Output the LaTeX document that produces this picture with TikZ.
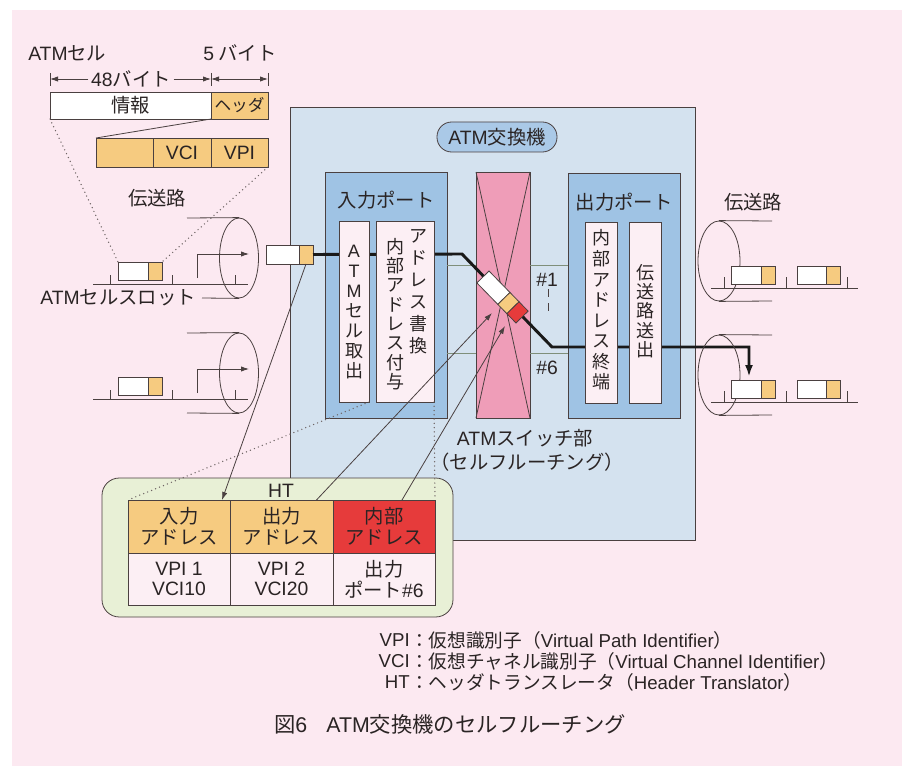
\documentclass[tikz,border=0pt]{standalone}
\usepackage{fontspec}
\setmainfont{Noto Sans CJK JP}
\newfontfamily\latfont{Liberation Sans}
\newcommand{\latn}[1]{{\latfont #1}}
\usetikzlibrary{arrows.meta,fit,shapes.geometric,calc}
\definecolor{bgpink}{HTML}{FCE9F1}
\definecolor{swblue}{HTML}{D4E2EF}
\definecolor{portblue}{HTML}{9FC3E4}
\definecolor{pillblue}{HTML}{AAC9E7}
\definecolor{innerpink}{HTML}{FCEFF4}
\definecolor{swpink}{HTML}{EF9DB8}
\definecolor{hdrorange}{HTML}{F6CB80}
\definecolor{hdrred}{HTML}{E63B3B}
\definecolor{htgreen}{HTML}{E8F0D6}
\definecolor{linec}{HTML}{4A4040}
\definecolor{txtc}{HTML}{2A2424}
\definecolor{thinc}{HTML}{7F8F7A}
\definecolor{dotc}{HTML}{6E6464}
\begin{document}
\begin{tikzpicture}[x=0.75pt,y=-0.75pt,
  ln/.style={draw=linec, line width=0.6pt},
  bx/.style={draw=linec, line width=0.6pt, inner sep=0pt, outer sep=0pt},
  lbl/.style={text=txtc, inner sep=0pt, font=\fontsize{14.5}{16}\selectfont},
  vt/.style={text=txtc, inner sep=0pt, align=center},
  dots/.style={draw=dotc, line width=1.1pt, line cap=round, dash pattern=on 0pt off 3.2pt},
  arr/.style={-{Latex[length=6pt,width=4pt]}},
  arrb/.style={{Latex[length=6pt,width=4pt]}-{Latex[length=6pt,width=4pt]}},
  heavy/.style={draw=black!90, line width=2.2pt},
  thinl/.style={draw=thinc, line width=0.7pt},
  ell/.style={ellipse, draw=linec, line width=0.6pt, inner sep=0pt}
]
\useasboundingbox (0,0) rectangle (908,774);
\fill[white] (0,0) rectangle (908,774);
\fill[bgpink] (12,10) rectangle (902,766);

% ---------- ATM cell structure (top left)
\node[lbl, anchor=west] (atmcell) at (28,53) {\latn{ATM}セル};
\node[lbl] (fiveb) at (240,53) {\latn{5} バイト};
\coordinate (d1) at (50,79); \coordinate (d2) at (211,79); \coordinate (d3) at (268,79);
\draw[ln] (50,73) -- (50,86) (211,73) -- (211,86) (268,73) -- (268,86);
\node[lbl, fill=bgpink, inner xsep=2pt] (b48) at (131,79) {\latn{48}バイト};
\draw[ln, arr] (b48.west) -- (d1);
\draw[ln, arr] (b48.east) -- (d2);
\draw[ln, arrb] (d2) -- (d3);
\node[bx, fill=white, fit={(50,92)(211,119)}] (info) {};
\node[lbl] (infot) at (info.center) {情報};
\node[bx, fill=hdrorange, fit={(211,92)(268,119)}] (hdr) {};
\node[lbl, font=\fontsize{12.5}{14}\selectfont] (hdrt) at (hdr.center) {ヘッダ};
\node[bx, fill=hdrorange, fit={(96,138)(153,167)}] (lowa) {};
\node[bx, fill=hdrorange, fit={(153,138)(211,167)}] (vcib) {};
\node[bx, fill=hdrorange, fit={(211,138)(268,167)}] (vpib) {};
\node[lbl] (vcit) at (vcib.center) {\latn{VCI}};
\node[lbl] (vpit) at (vpib.center) {\latn{VPI}};
\draw[ln] (info.south east) -- (lowa.north west);

% ---------- big switch box
\node[bx, fill=swblue, fit={(290,107)(695,540)}] (atmsw) {};
\node[bx, fill=pillblue, rounded corners=11pt, fit={(437,122)(557,152)}] (pill) {};
\node[lbl] (pillt) at (pill.center) {\latn{ATM}交換機};
\node[bx, fill=portblue, fit={(325,172)(447,418)}] (inport) {};
\node[lbl] (inportt) at (386,200) {入力ポート};
\node[bx, fill=portblue, fit={(568,173)(680,418)}] (outport) {};
\node[lbl] (outportt) at (624,202) {出力ポート};
\node[bx, fill=swpink, fit={(476,172)(530,418)}] (switch) {};
\draw[ln] (switch.north west) -- (switch.south east);
\draw[ln] (switch.north east) -- (switch.south west);
\draw[thinl] (inport.east |- 0,265) -- (switch.west |- 0,265);
\draw[thinl] (switch.east |- 0,265) -- (outport.west |- 0,265);
\draw[thinl] (inport.east |- 0,353) -- (switch.west |- 0,353);
\draw[thinl] (switch.east |- 0,353) -- (outport.west |- 0,353);
\node[lbl] (n1) at (547,280) {\latn{\#1}};
\draw[ln] (548,289) -- (548,297) (548,303) -- (548,311);
\node[lbl] (n6) at (547,368) {\latn{\#6}};
\node[lbl] (swt1) at (525,438) {\latn{ATM}スイッチ部};
\node[lbl] (swt2) at (527,462) {（セルフルーチング）};

% ---------- port cell and heavy path
\node[bx, fill=white, fit={(266,245)(299,264)}] (pcellw) {};
\node[bx, fill=hdrorange, fit={(299,245)(313,264)}] (pcello) {};
\coordinate (bend1) at (462,254);
\coordinate (bend2) at (552,347);
\coordinate (bend3) at (749,347);
\coordinate (outtip) at (749,377);
\draw[heavy, -{Latex[length=9pt,width=6pt]}] (pcello.east) -- (bend1) -- (bend2) -- (bend3) -- (outtip);

% inner boxes
\node[bx, fill=innerpink, fit={(339,221)(369,402)}] (ib1) {};
\node[bx, fill=innerpink, fit={(376,221)(434,402)}] (ib2) {};
\node[bx, fill=innerpink, fit={(585,222)(617,403)}] (ob1) {};
\node[bx, fill=innerpink, fit={(629,222)(661,403)}] (ob2) {};
\node[vt, font=\fontsize{13.5}{15}\selectfont] (ib1t) at (354,312) {\latn{A}\\\latn{T}\\\latn{M}\\セ\\ル\\取\\出};
\node[vt, font=\fontsize{13.5}{16.5}\selectfont] (ib2a) at (418,292) {ア\\ド\\レ\\ス\\書\\換};
\node[vt, font=\fontsize{13.5}{14.5}\selectfont] (ib2b) at (395,314) {内\\部\\ア\\ド\\レ\\ス\\付\\与};
\node[vt, font=\fontsize{13.5}{15.4}\selectfont] (ob1t) at (601,310) {内\\部\\ア\\ド\\レ\\ス\\終\\端};
\node[vt, font=\fontsize{13.5}{14.5}\selectfont] (ob2t) at (645,311) {伝\\送\\路\\送\\出};

% cell inside the switch
\begin{scope}[shift={(502.5,297)}, rotate=-45.7]
  \draw[ln, fill=white] (-28,-8.5) rectangle (2,8.5);
  \draw[ln, fill=hdrorange] (2,-8.5) rectangle (15,8.5);
  \draw[ln, fill=hdrred] (15,-8.5) rectangle (28,8.5);
\end{scope}
\coordinate (tipA) at (492,313);
\coordinate (tipB) at (505,326);

% ---------- left transmission lines
\node[lbl] (tl1) at (157,198) {伝送路};
\foreach \i/\dy in {1/0,2/115} {
  \node[ell, minimum width=29.25pt, minimum height=60pt] (eL\i) at (239,258+\dy) {};
  \draw[ln] (93,284+\dy) -- (248,284+\dy);
  \foreach \tx in {110,172,235} \draw[ln] (\tx,284+\dy) -- (\tx,275+\dy);
  \node[bx, fill=white, fit={(118,262+\dy)(148,280+\dy)}] (lcw\i) {};
  \node[bx, fill=hdrorange, fit={(148,262+\dy)(162,280+\dy)}] (lco\i) {};
  \draw[ln, arr] (197,278+\dy) |- (249,254+\dy);
  \draw[ln] (187,218+\dy) -- (eL\i.north);
}
\node[lbl, anchor=east] (slotl) at (196,298) {\latn{ATM}セルスロット};
\draw[ln] (202,298) -- (eL1.south);
\draw[ln] (187,413) -- (eL2.south);

% dotted lines from cell structure
\draw[dots] (info.south west) -- (lcw1.north west);
\draw[dots] (vpib.south east) -- (lco1.north east);

% ---------- right transmission lines
\node[lbl] (tl2) at (753,202) {伝送路};
\foreach \i/\dy in {1/0,2/114} {
  \node[ell, minimum width=31.5pt, minimum height=60pt] (eR\i) at (719,261+\dy) {};
  \draw[ln] (eR\i.north) -- (772,221+\dy);
  \draw[ln] (eR\i.south) -- (772,301+\dy);
  \draw[ln] (711,288+\dy) -- (858,288+\dy);
  \foreach \tx in {724,786,847} \draw[ln] (\tx,288+\dy) -- (\tx,277+\dy);
  \node[bx, fill=white, fit={(731,266+\dy)(761,284+\dy)}] (rcw\i) {};
  \node[bx, fill=hdrorange, fit={(761,266+\dy)(775,284+\dy)}] (rco\i) {};
  \node[bx, fill=white, fit={(797,266+\dy)(826,284+\dy)}] (rdw\i) {};
  \node[bx, fill=hdrorange, fit={(826,266+\dy)(840,284+\dy)}] (rdo\i) {};
}

% ---------- HT table
\node[bx, fill=htgreen, rounded corners=13pt, fit={(102,478)(453,617)}] (htbox) {};
\node[lbl] (htl) at (281,491) {\latn{HT}};
\node[bx, fill=hdrorange, fit={(128,500)(230,553)}] (ih) {};
\node[bx, fill=hdrorange, fit={(230,500)(333,553)}] (oh) {};
\node[bx, fill=hdrred, fit={(333,500)(435,553)}] (rh) {};
\node[bx, fill=innerpink, fit={(128,553)(230,605)}] (id) {};
\node[bx, fill=innerpink, fit={(230,553)(333,605)}] (od) {};
\node[bx, fill=innerpink, fit={(333,553)(435,605)}] (rd) {};
\tikzset{tt/.style={lbl, align=center, font=\fontsize{14.5}{15.5}\selectfont}}
\node[tt] (iht) at (ih.center) {入力\\アドレス};
\node[tt] (oht) at (oh.center) {出力\\アドレス};
\node[tt] (rht) at (rh.center) {内部\\アドレス};
\node[tt] (idt) at (id.center) {\latn{VPI 1}\\\latn{VCI10}};
\node[tt] (odt) at (od.center) {\latn{VPI 2}\\\latn{VCI20}};
\node[tt] (rdt) at (rd.center) {出力\\ポート\latn{\#6}};

% connectors to HT
\draw[ln, arr] (pcello.south) -- ($(ih.north east)+(-8,0)$);
\draw[ln, arr] ($(oh.north)+(35,0)$) -- (tipA);
\draw[ln, arr] ($(rh.north)+(18,0)$) -- (tipB);
\draw[dots] (ib1.south east) -- (ih.north west);
\draw[dots] (ib2.south east) -- (rh.north east);

% ---------- legend and caption
\tikzset{lg/.style={text=txtc, inner sep=0pt, font=\fontsize{14}{15}\selectfont}}
\node[lg, anchor=east] (k1) at (410,640) {\latn{VPI}};
\node[lg, anchor=west] (v1) at (410,640) {：仮想識別子（\latn{Virtual Path Identifier}）};
\node[lg, anchor=east] (k2) at (410,661) {\latn{VCI}};
\node[lg, anchor=west] (v2) at (410,661) {：仮想チャネル識別子（\latn{Virtual Channel Identifier}）};
\node[lg, anchor=east] (k3) at (410,682) {\latn{HT}};
\node[lg, anchor=west] (v3) at (410,682) {：ヘッダトランスレータ（\latn{Header Translator}）};
\node[text=txtc, inner sep=0pt, font=\fontsize{16}{17}\selectfont] (cap) at (450,724) {図\latn{6}\hspace{0.9em}\latn{ATM}交換機のセルフルーチング};
\end{tikzpicture}
\end{document}
